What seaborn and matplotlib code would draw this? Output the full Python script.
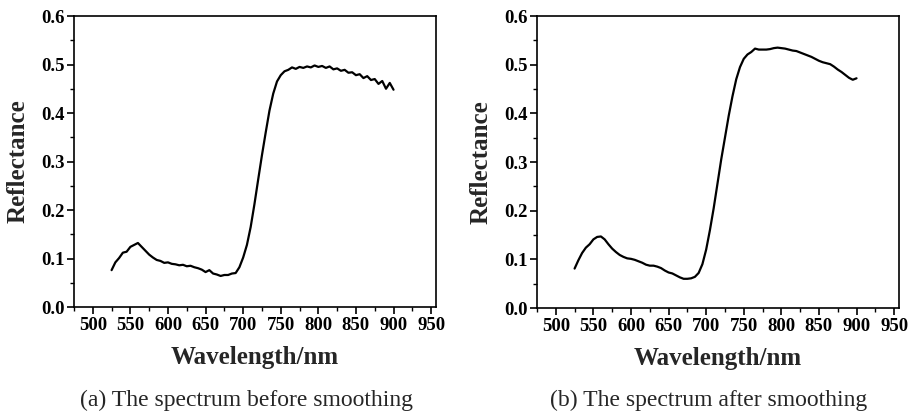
import numpy as np
import pandas as pd
import matplotlib
matplotlib.use("Agg")
import matplotlib.pyplot as plt
from matplotlib.ticker import MultipleLocator
import seaborn as sns

wavelength = list(range(525, 901, 5))

reflectance_raw = [
    0.076, 0.092, 0.101, 0.112, 0.114, 0.124, 0.128, 0.132, 0.124, 0.116,
    0.108, 0.102, 0.097, 0.095, 0.091, 0.092, 0.089, 0.088, 0.086, 0.087,
    0.084, 0.085, 0.082, 0.080, 0.077, 0.072, 0.076, 0.069, 0.067, 0.064,
    0.066, 0.066, 0.069, 0.070, 0.082, 0.102, 0.128, 0.165, 0.212, 0.263,
    0.313, 0.360, 0.405, 0.440, 0.465, 0.478, 0.486, 0.489, 0.494, 0.491,
    0.495, 0.493, 0.496, 0.494, 0.498, 0.495, 0.497, 0.493, 0.496, 0.490,
    0.492, 0.487, 0.489, 0.483, 0.484, 0.478, 0.480, 0.472, 0.476, 0.468,
    0.470, 0.460, 0.466, 0.450, 0.462, 0.448,
]

reflectance_smooth = [
    0.081, 0.098, 0.113, 0.124, 0.131, 0.141, 0.146, 0.147, 0.141, 0.131,
    0.122, 0.115, 0.109, 0.105, 0.102, 0.101, 0.099, 0.096, 0.093, 0.089,
    0.087, 0.087, 0.085, 0.082, 0.077, 0.073, 0.071, 0.067, 0.063, 0.060,
    0.060, 0.061, 0.064, 0.072, 0.090, 0.120, 0.160, 0.205, 0.255, 0.305,
    0.350, 0.395, 0.435, 0.470, 0.495, 0.512, 0.521, 0.526, 0.533, 0.531,
    0.531, 0.531, 0.532, 0.534, 0.535, 0.534, 0.533, 0.531, 0.529, 0.528,
    0.525, 0.522, 0.519, 0.516, 0.512, 0.508, 0.505, 0.503, 0.501, 0.496,
    0.490, 0.485, 0.479, 0.473, 0.469, 0.472,
]

x_ticks = [500, 550, 600, 650, 700, 750, 800, 850, 900, 950]
y_ticks = [0.0, 0.1, 0.2, 0.3, 0.4, 0.5, 0.6]
captions = ["(a) The spectrum before smoothing", "(b) The spectrum after smoothing"]

sns.set_style("ticks")
plt.rcParams["font.family"] = ["Liberation Serif", "DejaVu Serif"]

fig = plt.figure(figsize=(9.17, 4.15), dpi=100)
ax1 = fig.add_axes([74 / 917, 1 - 307 / 415, 362 / 917, 291 / 415])
ax2 = fig.add_axes([537 / 917, 1 - 308 / 415, 362 / 917, 292 / 415])

df1 = pd.DataFrame({"Wavelength": wavelength, "Reflectance": reflectance_raw})
df2 = pd.DataFrame({"Wavelength": wavelength, "Reflectance": reflectance_smooth})

for ax, df in [(ax1, df1), (ax2, df2)]:
    sns.lineplot(data=df, x="Wavelength", y="Reflectance", ax=ax,
                 color="black", linewidth=1.6)
    ax.set_xlim(475, 956.5)
    ax.set_ylim(0, 0.6)
    ax.set_xticks(x_ticks)
    ax.set_yticks(y_ticks)
    ax.xaxis.set_minor_locator(MultipleLocator(25))
    ax.yaxis.set_minor_locator(MultipleLocator(0.05))
    ax.set_xticklabels([str(v) for v in x_ticks], fontweight="bold", fontsize=13.5)
    ax.set_yticklabels([f"{v:.1f}" for v in y_ticks], fontweight="bold", fontsize=13.5)
    ax.tick_params(axis="both", which="major", direction="out", length=5,
                   width=1.2, pad=2, colors="black")
    ax.tick_params(axis="both", which="minor", direction="out", length=3,
                   width=1.0, colors="black")
    for s in ax.spines.values():
        s.set_visible(True)
        s.set_linewidth(1.2)
        s.set_color("black")
    ax.set_xlabel("Wavelength/nm", fontsize=18, fontweight="bold", labelpad=9)
    ax.set_ylabel("Reflectance", fontsize=18, fontweight="bold", labelpad=8)
    ax.grid(False)

fig.text(246 / 917, 1 - 400 / 415, captions[0], ha="center", va="center", fontsize=17)
fig.text(709 / 917, 1 - 400 / 415, captions[1], ha="center", va="center", fontsize=17)

fig.savefig("out.png", dpi=100)
